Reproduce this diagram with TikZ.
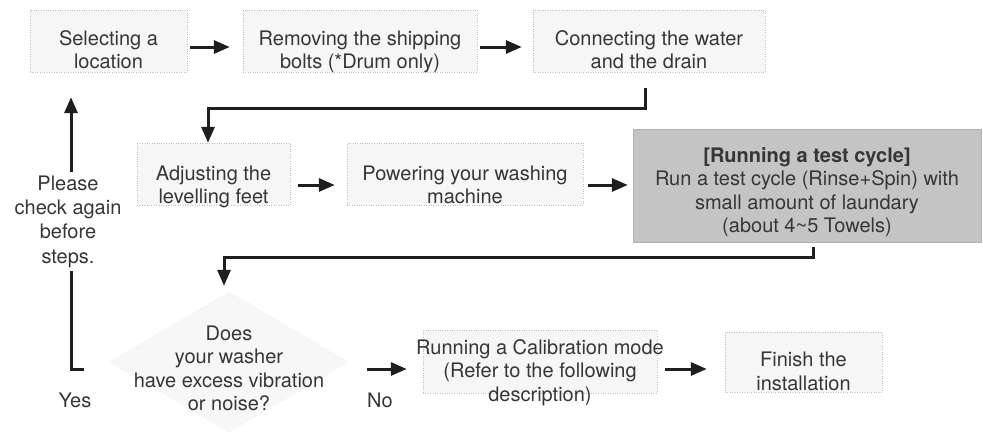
\documentclass[tikz,border=0pt]{standalone}
\usepackage{fontspec}
\setmainfont{TeX Gyre Heros}
\usetikzlibrary{arrows.meta,shapes.geometric}
\definecolor{txt}{HTML}{363636}
\definecolor{ink}{HTML}{1E1E1E}
\newcommand{\boxtext}[2]{\smash{\makebox[0pt]{\raisebox{#1}{\begin{tabular}{@{}c@{}}#2\end{tabular}}}}}
\tikzset{
  stepbox/.style={rectangle, draw=black!25, dotted, fill=black!3.5, inner sep=0pt, text=txt},
  testbox/.style={rectangle, draw=black!30, fill=black!23, inner sep=0pt, text=txt},
  decision/.style={diamond, draw=black!18, dotted, fill=black!3, inner sep=0pt, text=txt},
  lbl/.style={text=txt, inner sep=1pt},
  conn/.style={draw=ink, line width=3pt, -{Triangle[length=16pt,width=13pt]}}
}
\begin{document}
\begin{tikzpicture}[x=1pt,y=-1pt, font=\fontsize{20}{23.5}\selectfont]
\useasboundingbox (0,0) rectangle (983,432);

\node[stepbox, minimum width=157pt, minimum height=62pt] (sel) at (108.5,41) {\boxtext{-16.5pt}{Selecting a\\location}};
\node[stepbox, minimum width=234pt, minimum height=62pt] (rem) at (360,41) {\boxtext{-16.5pt}{Removing the shipping\\bolts (*Drum only)}};
\node[stepbox, minimum width=232pt, minimum height=62pt] (con) at (649,41) {\boxtext{-16.5pt}{Connecting the water\\and the drain}};
\node[stepbox, minimum width=153pt, minimum height=62pt] (adj) at (213.5,174) {\boxtext{-18.5pt}{Adjusting the\\levelling feet}};
\node[stepbox, minimum width=236pt, minimum height=62pt] (pow) at (465,174) {\boxtext{-18.5pt}{Powering your washing\\machine}};
\node[testbox, minimum width=348pt, minimum height=113pt] (test) at (807,185.5) {\boxtext{-12.5pt}{\textbf{[Running a test cycle]}\\Run a test cycle (Rinse+Spin) with\\small amount of laundary\\(about 4\textasciitilde5 Towels)}};
\node[decision, minimum width=238pt, minimum height=140pt] (dia) at (229,362) {\boxtext{-14pt}{Does\\your washer\\have excess vibration\\or noise?}};
\node[stepbox, minimum width=234pt, minimum height=63pt] (cal) at (540,361.5) {\boxtext{-16.5pt}{Running a Calibration mode\\(Refer to the following\\description)}};
\node[stepbox, minimum width=157pt, minimum height=60pt] (fin) at (803.5,362) {\boxtext{-17pt}{Finish the\\installation}};

\node[lbl] (yes) at (75,400) {Yes};
\node[lbl] (no) at (380,400) {No};

\draw[conn, shorten <=3pt, shorten >=13pt] ([yshift=-6pt]sel.east) -- ([yshift=-6pt]rem.west);
\draw[conn, shorten <=3pt, shorten >=11pt] ([yshift=-6pt]rem.east) -- ([yshift=-6pt]con.west);
\draw[conn, shorten <=16pt] ([xshift=-4pt]con.south) -- ++(0,36) -| ([xshift=-5.5pt]adj.north);
\draw[conn, shorten <=8pt, shorten >=12pt] ([yshift=-11pt]adj.east) -- ([yshift=-11pt]pow.west);
\draw[conn, shorten <=5pt, shorten >=5pt] ([yshift=-11pt]pow.east) -- ([yshift=0.5pt]test.west);
\draw[conn, shorten <=5pt, shorten >=6pt] ([xshift=6pt]test.south) -- ++(0,15) -| ([xshift=-5pt]dia.north);
\draw[conn, shorten <=19pt, shorten >=16pt] ([yshift=-7pt]dia.east) -- ([yshift=-7.5pt]cal.west);
\draw[conn, shorten <=8pt, shorten >=18pt] ([yshift=-7.5pt]cal.east) -- ([yshift=-7pt]fin.west);

\coordinate (ys) at (84,369);
\coordinate (yc) at (71,369);
\draw[conn, shorten >=25pt] (ys) -- (yc) -- (yc |- sel.south);

\node[lbl, fill=white, align=center, inner xsep=2pt, inner ysep=4pt, font=\fontsize{20}{24.3}\selectfont] (chk) at (68,221.5) {Please\\check again\\before\\steps.};
\end{tikzpicture}
\end{document}
